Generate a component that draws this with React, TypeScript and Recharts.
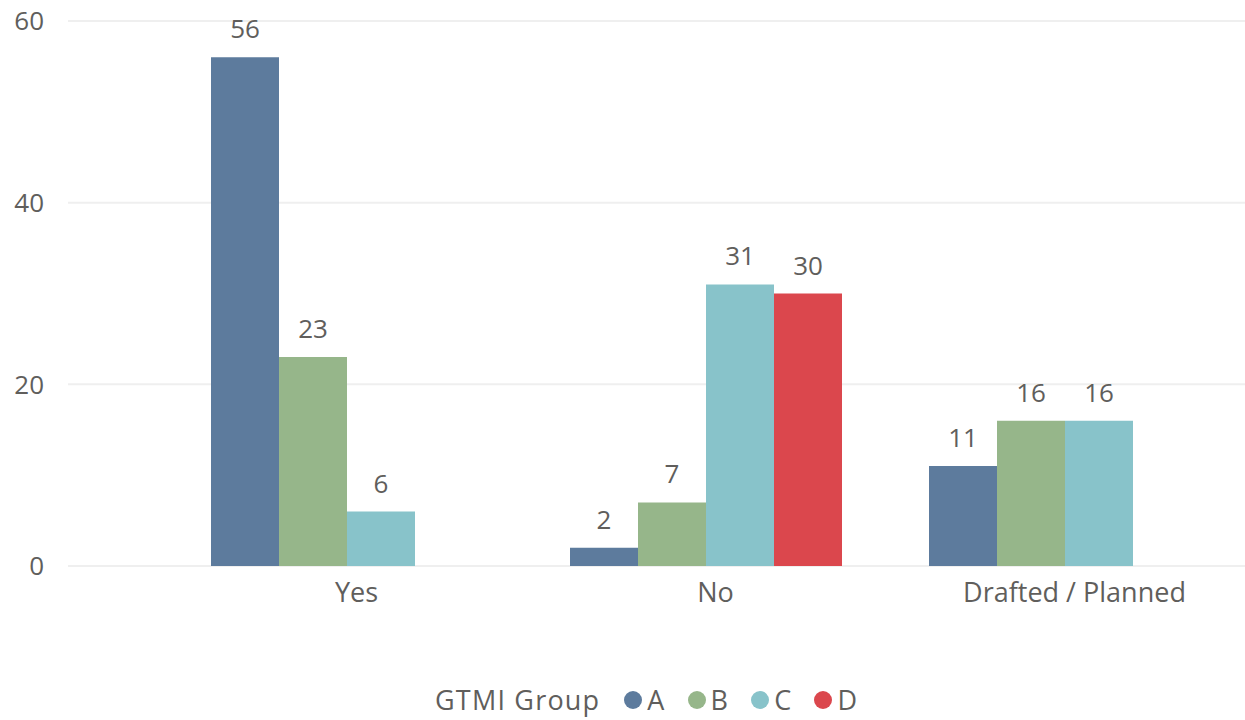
import React from 'react';
import { BarChart, Bar, XAxis, YAxis, CartesianGrid, LabelList } from 'recharts';

const categories = ['Yes', 'No', 'Drafted / Planned'];
const seriesA = [56, 2, 11];
const seriesB = [23, 7, 16];
const seriesC = [6, 31, 16];
const seriesD: (number | null)[] = [null, 30, null];
const yTicks = [0, 20, 40, 60];

const seriesNames = ['A', 'B', 'C', 'D'];
const colors = ['#5D7B9D', '#96B68A', '#88C3CA', '#DB474D'];

const data = categories.map((cat, i) => ({
  cat,
  A: seriesA[i],
  B: seriesB[i],
  C: seriesC[i],
  D: seriesD[i],
}));

const textColor = '#605E5C';
const font = '"Open Sans", "Noto Sans", sans-serif';

// legend drawn as plain html under the plot
const ChartLegend = () => (
  <div
    style={{
      position: 'absolute',
      left: 435,
      top: 685,
      height: 30,
      lineHeight: '30px',
      display: 'flex',
      alignItems: 'center',
      fontFamily: font,
      fontSize: 27,
      letterSpacing: 1.2,
      color: textColor,
      whiteSpace: 'nowrap',
    }}
  >
    <span style={{ marginRight: 24 }}>GTMI Group</span>
    {seriesNames.map((name, i) => (
      <span key={name} style={{ display: 'flex', alignItems: 'center', marginRight: 22 }}>
        <span
          style={{
            display: 'inline-block',
            width: 18,
            height: 18,
            borderRadius: '50%',
            background: colors[i],
            marginRight: 5,
          }}
        />
        {name}
      </span>
    ))}
  </div>
);

export default function App() {
  return (
    <div style={{ position: 'absolute', left: 0, top: 0, width: 1245, height: 720, background: '#fff', overflow: 'hidden' }}>
      <BarChart
        width={1245}
        height={720}
        data={data}
        margin={{ top: 21, right: 0, left: 0, bottom: 0 }}
        barCategoryGap={43}
        barGap={0}
      >
        <CartesianGrid vertical={false} stroke="#EFEFEF" strokeWidth={2} />
        <XAxis
          dataKey="cat"
          axisLine={false}
          tickLine={false}
          padding={{ left: 100, right: 0 }}
          tick={{ fill: textColor, fontSize: 27, fontFamily: font, dx: 9 }}
          tickMargin={11}
          height={154}
        />
        <YAxis
          domain={[0, 60]}
          ticks={yTicks}
          axisLine={false}
          tickLine={false}
          width={68}
          tickMargin={18}
          tick={{ fill: textColor, fontSize: 26, fontFamily: font }}
        />
        {seriesNames.map((name, i) => (
          <Bar key={name} dataKey={name} fill={colors[i]} isAnimationActive={false}>
            <LabelList
              dataKey={name}
              position="top"
              offset={19}
              fill={textColor}
              fontSize={26}
              fontFamily={font}
            />
          </Bar>
        ))}
      </BarChart>
      <ChartLegend />
    </div>
  );
}
